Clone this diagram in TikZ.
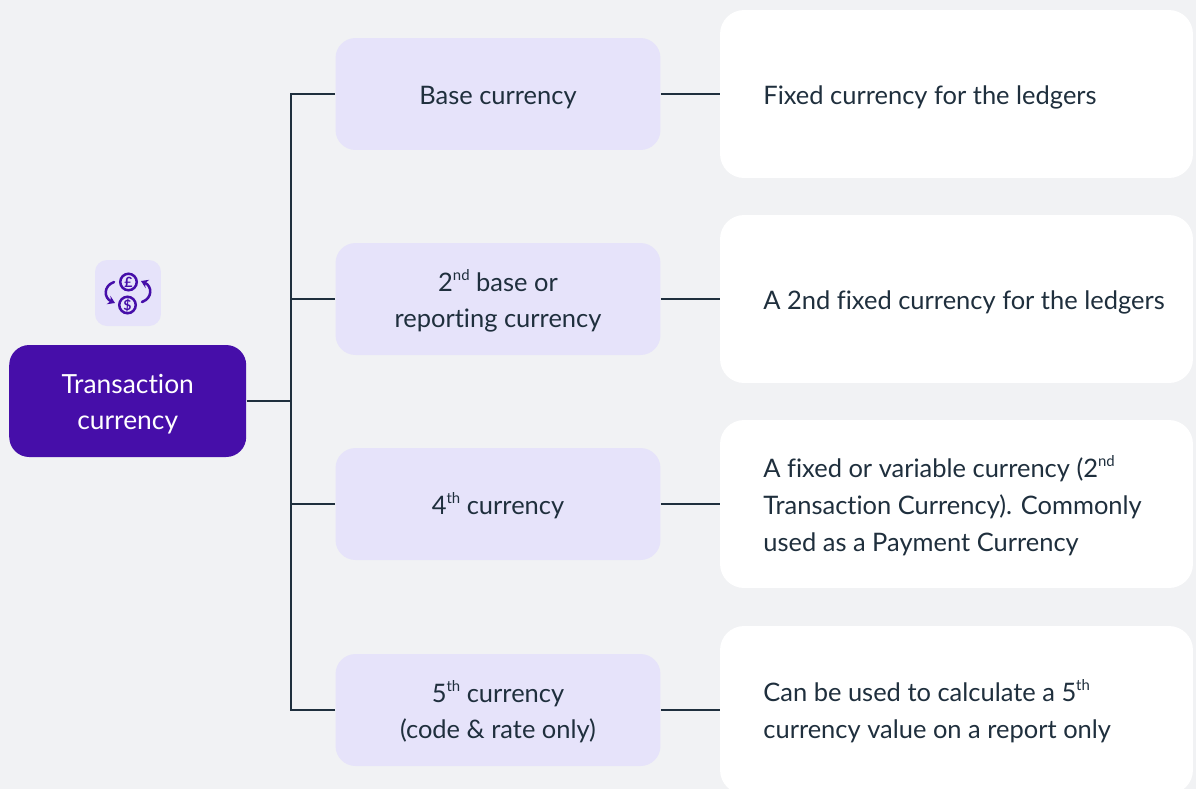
\documentclass[tikz,border=0pt]{standalone}
\usepackage{fontspec}
\setmainfont[Ligatures=NoCommon]{Lato}
\usetikzlibrary{arrows.meta}
\definecolor{pagebg}{HTML}{F1F2F4}
\definecolor{lilac}{HTML}{E6E3FA}
\definecolor{deeppurple}{HTML}{460EA9}
\definecolor{inkdark}{HTML}{1F2F3D}
\newcommand{\boxtop}{\rule{0pt}{0.58cm}}
\newcommand{\boxbottom}{\rule[-0.18cm]{0pt}{0pt}}
\newcommand{\firstline}{\rule{0pt}{0.6cm}}
\newcommand{\ordinal}[1]{\raisebox{0.42em}{\fontsize{8.5}{8.5}\selectfont #1}}
\tikzset{
 rootbox/.style={fill=deeppurple,text=white,rounded corners=0.4cm,minimum width=4.74cm,minimum height=2.24cm,align=center,inner sep=0pt,font=\fontsize{15}{21}\selectfont,execute at end node=\boxbottom},
 kindbox/.style={fill=lilac,text=inkdark,rounded corners=0.4cm,minimum width=6.5cm,minimum height=2.24cm,align=center,inner sep=0pt,font=\fontsize{14.5}{21}\selectfont,execute at begin node=\boxtop,execute at end node=\boxbottom},
 infobox/.style={fill=white,rounded corners=0.48cm,minimum width=9.46cm,minimum height=3.36cm,inner sep=0pt},
 infotext/.style={anchor=west,text=inkdark,align=left,inner sep=0pt,font=\fontsize{14.5}{21}\selectfont},
 link/.style={draw=inkdark,line width=0.023cm},
 iconline/.style={draw=deeppurple,line width=0.05cm},
 iconturn/.style={iconline,line cap=round,-{Stealth[length=0.14cm,width=0.18cm]}},
 iconcoin/.style={circle,iconline,minimum size=0.33cm,inner sep=0pt,text=deeppurple,font=\fontsize{8}{8}\selectfont\bfseries}
}
\begin{document}
\begin{tikzpicture}[x=0.02cm,y=-0.02cm]
 \useasboundingbox (0,0) rectangle (1196,789);
 \fill[pagebg] (0,0) rectangle (1196,789);
 \node (root) [rootbox] at (127.7,401) {\firstline Transaction\\currency};
 \node (iconbox) [fill=lilac,rounded corners=0.24cm,minimum size=1.32cm,inner sep=0pt] at (128,293) {};
 \node (pound) [iconcoin] at (128.5,282) {£};
 \node (dollar) [iconcoin] at (127.5,305) {\$};
 \coordinate (turnla) at (114,282);
 \coordinate (turnlb) at (115,303);
 \coordinate (turnra) at (142,302);
 \coordinate (turnrb) at (141,281);
 \draw[iconturn] (turnla) .. controls (103,286) and (104,298) .. (turnlb);
 \draw[iconturn] (turnra) .. controls (153,298) and (152,286) .. (turnrb);
 \node (base) [kindbox] at (498,94) {Base currency};
 \node (second) [kindbox] at (498,299) {\firstline 2\ordinal{nd} base or\\reporting currency};
 \node (fourth) [kindbox] at (498,504) {4\ordinal{th} currency};
 \node (fifth) [kindbox] at (498,710) {\firstline 5\ordinal{th} currency\\(code \& rate only)};
 \node (baseinfo) [infobox] at (956.5,94) {};
 \node (secondinfo) [infobox] at (956.5,299) {};
 \node (fourthinfo) [infobox] at (956.5,504) {};
 \node (fifthinfo) [infobox] at (956.5,710) {};
 \node (basetext) [infotext] at (763,97) {Fixed currency for the ledgers};
 \node (secondtext) [infotext] at (763,302) {A 2nd fixed currency for the ledgers};
 \node (fourthtext) [infotext] at (763,505.5) {A fixed or variable currency (2\ordinal{nd}\\Transaction Currency). Commonly\\used as a Payment Currency};
 \node (fifthtext) [infotext] at (763,711) {Can be used to calculate a 5\ordinal{th}\\currency value on a report only};
 \coordinate (trunk) at (291,401);
 \draw[link] (root.east) -- (trunk);
 \draw[link] (base.west) -| (trunk);
 \draw[link] (second.west) -| (trunk);
 \draw[link] (fourth.west) -| (trunk);
 \draw[link] (fifth.west) -| (trunk);
 \draw[link] (base.east) -- (baseinfo.west);
 \draw[link] (second.east) -- (secondinfo.west);
 \draw[link] (fourth.east) -- (fourthinfo.west);
 \draw[link] (fifth.east) -- (fifthinfo.west);
\end{tikzpicture}
\end{document}
